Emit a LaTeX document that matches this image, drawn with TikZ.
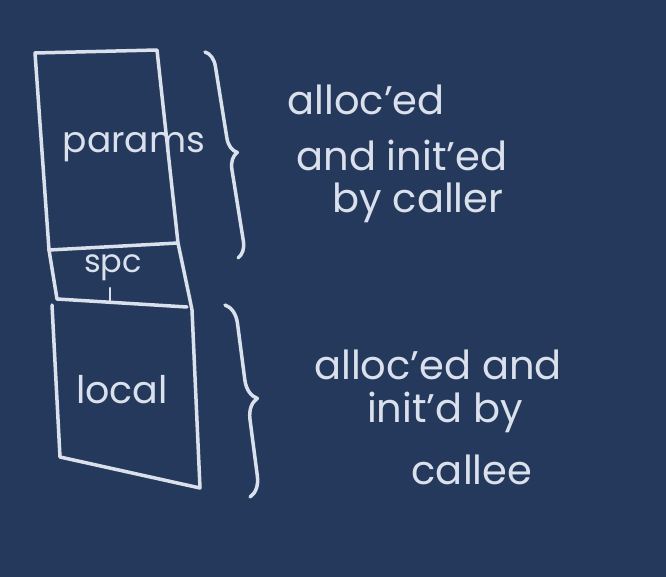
\documentclass[tikz,border=0pt]{standalone}
\usepackage{fontspec}
\setmainfont{Poppins}
\usetikzlibrary{decorations.pathreplacing}
\definecolor{board}{RGB}{36,57,92}
\definecolor{chalk}{RGB}{218,225,236}
\tikzset{
  chalkline/.style={draw=chalk, line width=3.5pt, line cap=round, line join=round},
  chalktext/.style={text=chalk, inner sep=0pt, font=\fontsize{40}{40}\selectfont},
  brc/.style={chalkline, decorate, decoration={brace, amplitude=#1}}
}
\begin{document}
\begin{tikzpicture}[x=1pt,y=1pt]
\fill[board] (0,0) rectangle (666,-577);
\useasboundingbox (0,0) rectangle (666,-577);
% stack frame outline
\coordinate (a) at (35,-53);
\coordinate (b) at (157,-50);
\coordinate (c) at (178,-243);
\coordinate (d) at (49,-250);
\coordinate (e) at (57,-299);
\coordinate (f) at (190,-300);
\coordinate (g) at (52,-305);
\coordinate (h) at (192,-310);
\coordinate (i) at (60,-457);
\coordinate (j) at (200,-488);
\coordinate (k) at (187,-307);
\draw[chalkline] (d) -- (a) -- (b) -- (c) -- (f) -- (h) -- (j) -- (i) -- (g);
\draw[chalkline] (d) -- (c);
\draw[chalkline] (d) -- (e);
\draw[chalkline] (e) -- (k);
\coordinate (t1) at (110,-288);
\coordinate (t2) at (110,-303);
\draw[chalkline, line width=2.5pt] (t1) -- (t2);
% labels in the stack
\node[chalktext, font=\fontsize{36}{36}\selectfont] (params) at (134,-147) {params};
\node[chalktext, font=\fontsize{32}{32}\selectfont] (spc) at (113,-268) {spc};
\node[chalktext, font=\fontsize{38}{38}\selectfont] (local) at (122,-390) {local};
% braces
\coordinate (b1s) at (205,-52);
\coordinate (b1e) at (238,-258);
\coordinate (b2s) at (225,-305);
\coordinate (b2e) at (250,-497);
\draw[brc=16pt] (b1s) -- (b1e);
\draw[brc=20pt] (b2s) -- (b2e);
% annotations
\node[chalktext] (t11) at (366,-100) {alloc'ed};
\node[chalktext] (t12) at (402,-155) {and init'ed};
\node[chalktext] (t13) at (418,-203) {by caller};
\node[chalktext] (t21) at (438,-365) {alloc'ed and};
\node[chalktext] (t22) at (445,-412) {init'd by};
\node[chalktext] (t23) at (472,-470) {callee};
\end{tikzpicture}
\end{document}
